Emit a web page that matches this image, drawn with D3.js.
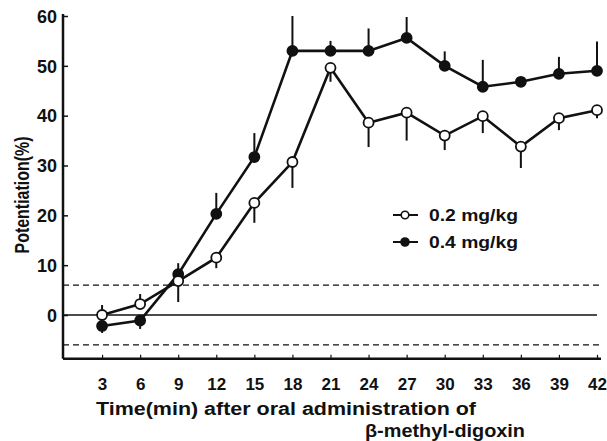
<!DOCTYPE html>
<html><head><meta charset="utf-8">
<script src="https://cdn.jsdelivr.net/npm/d3@7"></script>
<style>
html,body{margin:0;padding:0;background:#fff;}
text{font-family:"Liberation Sans",Arial,sans-serif;font-weight:bold;fill:#111;}
</style></head>
<body><svg id="c" width="607" height="441"></svg>
<script>
const times = [3,6,9,12,15,18,21,24,27,30,33,36,39,42];
const low = [0,2.2,6.8,11.5,22.5,30.7,49.6,38.6,40.6,36,39.9,33.8,39.5,41.1];
const lowErr = [2,2,-4.2,-2.1,-4,-5.2,-2.8,-4.9,-5.6,-2.9,-3.4,-4.3,-2.4,-1.6];
const high = [-2.2,-1.1,8.2,20.3,31.7,53,53,53,55.6,50,45.8,46.8,48.4,49];
const highErr = [-1.4,-1.7,2.2,4.2,4.8,7,2,4.5,4.2,2.9,5.4,0,3.4,5.9];
const yTicks = [0,10,20,30,40,50,60];
const seriesNames = ["0.2 mg/kg","0.4 mg/kg"];
const limits = [6,-6];

const svg = d3.select("#c");
const x = d3.scaleLinear().domain([0,42]).range([64,597]);
const y = d3.scaleLinear().domain([0,60]).range([315,16]);
const ink = "#111";

// axes
const yAxis = d3.axisLeft(y).tickValues(yTicks).tickSize(-5).tickPadding(6).tickSizeOuter(0);
const gy = svg.append("g").attr("transform","translate(63,0)").call(yAxis);
gy.select(".domain").remove();
gy.selectAll("line").attr("stroke",ink).attr("stroke-width",1.5);
gy.selectAll("text").style("font-size","18px").attr("dy","0.35em");
svg.append("line").attr("x1",63).attr("x2",63).attr("y1",14).attr("y2",y(-8.8))
  .attr("stroke",ink).attr("stroke-width",2.5);

const xAxis = d3.axisBottom(x).tickValues(times).tickSize(-4).tickPadding(19).tickSizeOuter(0);
const gx = svg.append("g").attr("transform",`translate(0,${y(-8.8)})`).call(xAxis);
gx.select(".domain").remove();
gx.selectAll("line").attr("stroke",ink).attr("stroke-width",1.2);
gx.selectAll("text").style("font-size","17px");
svg.append("line").attr("x1",63).attr("x2",601).attr("y1",y(-8.8)).attr("y2",y(-8.8))
  .attr("stroke",ink).attr("stroke-width",2.5);

// reference lines
svg.append("line").attr("x1",63).attr("x2",597).attr("y1",y(0)).attr("y2",y(0))
  .attr("stroke",ink).attr("stroke-width",1.3);
svg.selectAll(".lim").data(limits).join("line")
  .attr("x1",63).attr("x2",600).attr("y1",d=>y(d)).attr("y2",d=>y(d))
  .attr("stroke",ink).attr("stroke-width",1.3).attr("stroke-dasharray","6,4");

// labels
svg.append("text").attr("transform","translate(29,195) rotate(-90)")
  .attr("text-anchor","middle").style("font-size","20px")
  .attr("textLength",117).attr("lengthAdjust","spacingAndGlyphs").text("Potentiation(%)");
svg.append("text").attr("x",96).attr("y",415).style("font-size","18px")
  .attr("textLength",380).attr("lengthAdjust","spacingAndGlyphs")
  .text("Time(min) after oral administration of");
svg.append("text").attr("x",365).attr("y",437).style("font-size","18px")
  .attr("textLength",160).attr("lengthAdjust","spacingAndGlyphs")
  .text("β-methyl-digoxin");

const line = d3.line().x(d=>x(d[0])).y(d=>y(d[1]));
function drawSeries(vals, errs, filled){
  const pts = times.map((t,i)=>[t,vals[i],errs[i]]);
  svg.append("g").selectAll("line").data(pts).join("line")
    .attr("x1",d=>x(d[0])).attr("x2",d=>x(d[0]))
    .attr("y1",d=>y(d[1])).attr("y2",d=>y(d[1]+d[2]))
    .attr("stroke",ink).attr("stroke-width",2);
  svg.append("path").datum(pts).attr("d",line).attr("fill","none")
    .attr("stroke",ink).attr("stroke-width",2.6);
  svg.append("g").selectAll("circle").data(pts).join("circle")
    .attr("cx",d=>x(d[0])).attr("cy",d=>y(d[1])).attr("r",5)
    .attr("fill",filled?ink:"#fff").attr("stroke",ink).attr("stroke-width",1.8);
}
drawSeries(high, highErr, true);
drawSeries(low, lowErr, false);

// legend
const leg = svg.append("g");
seriesNames.forEach((n,i)=>{
  const yy = 215 + i*27;
  leg.append("line").attr("x1",393).attr("x2",418).attr("y1",yy).attr("y2",yy)
    .attr("stroke",ink).attr("stroke-width",2);
  leg.append("circle").attr("cx",405).attr("cy",yy).attr("r",i?4:3.8)
    .attr("fill",i?ink:"#fff").attr("stroke",ink).attr("stroke-width",1.6);
  leg.append("text").attr("x",429).attr("y",yy).attr("dy","0.35em")
    .style("font-size","16px").attr("textLength",89).attr("lengthAdjust","spacingAndGlyphs").text(n);
});
</script></body></html>
